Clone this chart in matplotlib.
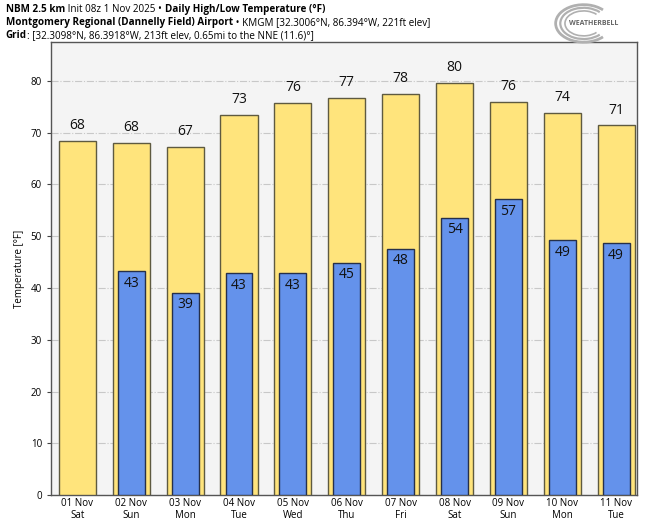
import matplotlib
matplotlib.use("Agg")
import matplotlib.pyplot as plt
from matplotlib.patches import Arc

plt.rcParams['font.family'] = ['Open Sans', 'DejaVu Sans']

days = ["01 Nov\nSat", "02 Nov\nSun", "03 Nov\nMon", "04 Nov\nTue", "05 Nov\nWed",
        "06 Nov\nThu", "07 Nov\nFri", "08 Nov\nSat", "09 Nov\nSun", "10 Nov\nMon",
        "11 Nov\nTue"]
highs = [68.4, 68.1, 67.3, 73.4, 75.7, 76.7, 77.5, 79.6, 75.9, 73.9, 71.4]
lows = [None, 43.3, 39.1, 42.8, 42.9, 44.9, 47.6, 53.6, 57.1, 49.3, 48.6]

header = [
    [("NBM 2.5 km", "bold"), (" Init 08z 1 Nov 2025 • ", "normal"),
     ("Daily High/Low Temperature (°F)", "bold")],
    [("Montgomery Regional (Dannelly Field) Airport", "bold"),
     (" • KMGM [32.3006°N, 86.394°W, 221ft elev]", "normal")],
    [("Grid", "bold"), (": [32.3098°N, 86.3918°W, 213ft elev, 0.65mi to the NNE (11.6)°]", "normal")],
]

fig = plt.figure(figsize=(6.47, 5.2), dpi=100)
ax = fig.add_axes([0.0788, 0.048, 0.906, 0.871])
ax.set_facecolor("#f4f4f4")

x = list(range(len(days)))
ax.bar(x, highs, width=0.69, color="#ffe47c", edgecolor="#5e5a40", linewidth=1.0, zorder=3)
for i, h in enumerate(highs):
    ax.text(i, h + 1.5, f"{round(h):d}", ha="center", va="bottom", fontsize=10, color="#111111", zorder=4)

lx = [i for i, v in enumerate(lows) if v is not None]
lv = [v for v in lows if v is not None]
ax.bar(lx, lv, width=0.5, color="#6492eb", edgecolor="#26304a", linewidth=1.0, zorder=3)
for i, v in zip(lx, lv):
    ax.text(i, v - 0.9, f"{round(v):d}", ha="center", va="top", fontsize=10, color="#111111", zorder=4)

ax.set_xlim(-0.49, 10.39)
ax.set_ylim(0, 87.5)
ax.set_yticks(range(0, 81, 10))
ax.set_xticks(x)
ax.set_xticklabels(days, fontsize=7, linespacing=1.15)
ax.tick_params(axis="y", labelsize=7, length=3, color="#444444")
ax.tick_params(axis="x", length=0, pad=2)
ax.grid(axis="y", color="#c8c8c8", linestyle="-.", linewidth=0.8, zorder=0)
ax.set_ylabel("Temperature [°F]", fontsize=7)
for s in ax.spines.values():
    s.set_color("#555555")
    s.set_linewidth(1.0)

# header lines, drawn run by run
fig.canvas.draw()
r = fig.canvas.get_renderer()
ys = [0.993, 0.968, 0.943]
for line, y in zip(header, ys):
    xpos = 0.009
    for txt, weight in line:
        t = fig.text(xpos, y, txt, fontsize=7.1, fontweight=weight, va="top")
        bb = t.get_window_extent(renderer=r).transformed(fig.transFigure.inverted())
        xpos = bb.x1

# logo
lax = fig.add_axes([0.83, 0.915, 0.16, 0.08])
lax.set_xlim(0, 1)
lax.set_ylim(0, 1)
lax.axis("off")
for k, w in enumerate([0.9, 0.75, 0.6]):
    lax.add_patch(Arc((0.45, 0.5), w * 0.6, w, theta1=60, theta2=300, color="#b0b0b0", lw=2 - k * 0.4))
lax.text(0.55, 0.5, "WEATHERBELL", fontsize=5, color="#666666", ha="center", va="center", fontweight="bold")

fig.savefig("out.png", dpi=100)
